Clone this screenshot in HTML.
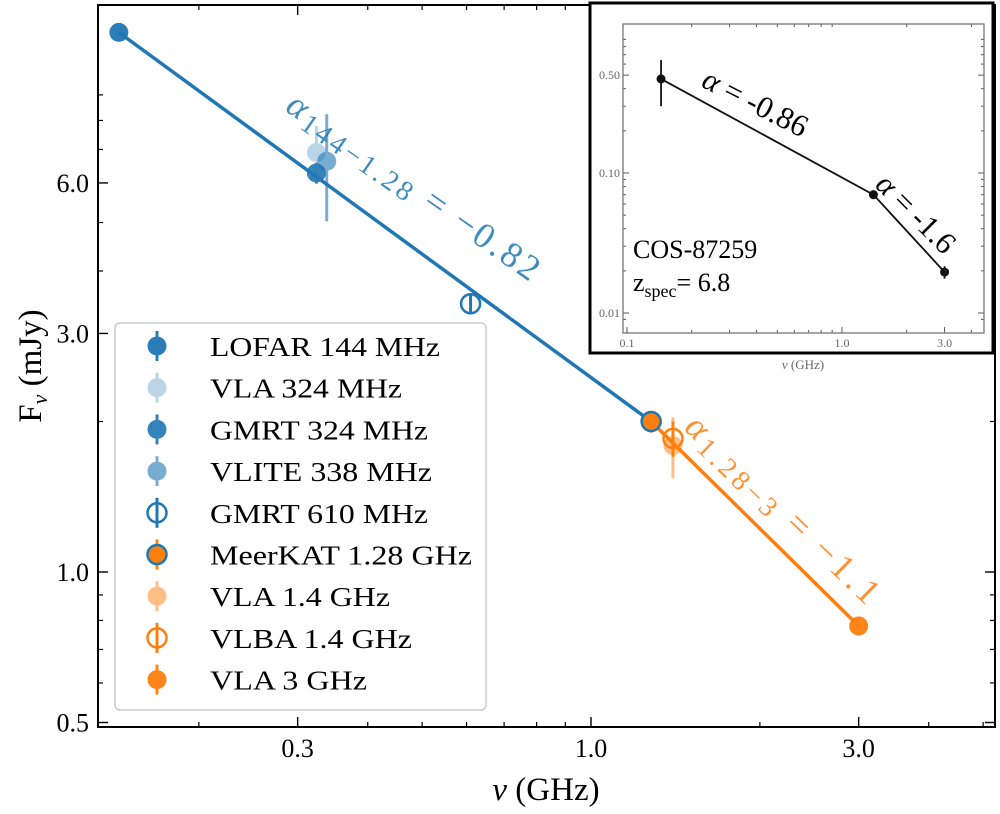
<!DOCTYPE html>
<html><head><meta charset="utf-8"><style>
html,body{margin:0;padding:0;background:#fff}
svg{display:block}
text{font-family:"Liberation Serif","DejaVu Serif",serif}
</style></head><body>
<svg id="chart" width="1000" height="814" xmlns="http://www.w3.org/2000/svg">
<rect width="1000" height="814" fill="#fff"/>
<g id="main"></g>
<g id="inset"></g>
</svg>
<script>
const NS="http://www.w3.org/2000/svg";
// ---- main data ----
const labels=["LOFAR 144 MHz","VLA 324 MHz","GMRT 324 MHz","VLITE 338 MHz","GMRT 610 MHz","MeerKAT 1.28 GHz","VLA 1.4 GHz","VLBA 1.4 GHz","VLA 3 GHz"];
const freqs=[0.144,0.324,0.324,0.338,0.61,1.28,1.4,1.4,3.0];
const fluxes=[12.0,6.9,6.28,6.63,3.44,2.0,1.79,1.85,0.78];
const errLo=[0.3,0.9,0.3,1.6,0.15,0.1,0.25,0.15,0.03];
const errHi=[0.3,0.9,0.3,1.6,0.15,0.1,0.25,0.15,0.03];
const xTicks=[0.3,1.0,3.0];
const xTickLabels=["0.3","1.0","3.0"];
const yTicks=[0.5,1.0,3.0,6.0];
const yTickLabels=["0.5","1.0","3.0","6.0"];
const fitBlue=[0.144,1.28];
const fitOrange=[1.28,3.0];
// ---- inset data ----
const insetFreqs=[0.144,1.4,3.0];
const insetFlux=[0.47,0.07,0.0196];
const insetErr=[0.17,0.005,0.002];
const insetXTicks=[0.1,1.0,3.0];
const insetXTickLabels=["0.1","1.0","3.0"];
const insetYTicks=[0.01,0.1,0.5];
const insetYTickLabels=["0.01","0.10","0.50"];
// layout only
const legendTextWidths=[230,192,218,222,218,262,180,202,157];

const BLUE="#1f77b4",ORANGE="#ff7f0e";
const L=98,R=995,T=5,B=727;
const X=v=>591+561*Math.log10(v);
const Y=v=>572-500*Math.log10(v);
function mk(tag,attrs,parent){const e=document.createElementNS(NS,tag);for(const k in attrs)e.setAttribute(k,attrs[k]);parent.appendChild(e);return e;}
const main=document.getElementById('main');

const xMinor=[0.2,0.4,0.5,0.6,0.7,0.8,0.9,2,4,5];
xMinor.forEach(v=>{const x=X(v);mk('line',{x1:x,x2:x,y1:B,y2:B-5,stroke:'#000','stroke-width':1.2},main);mk('line',{x1:x,x2:x,y1:T,y2:T+5,stroke:'#000','stroke-width':1.2},main);});
const yMinor=[0.6,0.7,0.8,0.9,2,4,5,7,8,9];
yMinor.forEach(v=>{const y=Y(v);mk('line',{x1:L,x2:L+5,y1:y,y2:y,stroke:'#000','stroke-width':1.2},main);mk('line',{x1:R,x2:R-5,y1:y,y2:y,stroke:'#000','stroke-width':1.2},main);});
xTicks.forEach((v,i)=>{const x=X(v);
 mk('line',{x1:x,x2:x,y1:B,y2:B-10,stroke:'#000','stroke-width':1.4},main);
 mk('line',{x1:x,x2:x,y1:T,y2:T+10,stroke:'#000','stroke-width':1.4},main);
 const t=mk('text',{x:x,y:757,'text-anchor':'middle','font-size':26},main);t.textContent=xTickLabels[i];
 
 });
yTicks.forEach((v,i)=>{const y=Y(v);
 mk('line',{x1:L,x2:L+10,y1:y,y2:y,stroke:'#000','stroke-width':1.4},main);
 mk('line',{x1:R,x2:R-10,y1:y,y2:y,stroke:'#000','stroke-width':1.4},main);
 const t=mk('text',{x:89,y:y+9,'text-anchor':'end','font-size':26},main);t.textContent=yTickLabels[i];
 
 });

const lb=mk('line',{x1:X(fitBlue[0]),y1:Y(fluxes[0]),x2:X(fitBlue[1]),y2:Y(fluxes[5]),stroke:BLUE,'stroke-width':3.5},main);


const lo=mk('line',{x1:X(fitOrange[0]),y1:Y(fluxes[5]),x2:X(fitOrange[1]),y2:Y(fluxes[8]),stroke:ORANGE,'stroke-width':3.5},main);



const styles=[
 {c:BLUE,fill:BLUE,op:0.95},{c:BLUE,fill:BLUE,op:0.3},{c:BLUE,fill:BLUE,op:0.9},{c:BLUE,fill:BLUE,op:0.6},
 {c:BLUE,fill:'#fff',op:1,open:true},{c:ORANGE,fill:ORANGE,op:1,edge:BLUE},{c:ORANGE,fill:ORANGE,op:0.5},
 {c:ORANGE,fill:'none',op:1,open:true},{c:ORANGE,fill:ORANGE,op:0.95}];
function marker(g,x,y,s,r,eTop,eBot){
 const grp=mk('g',{opacity:s.op},g);
 mk('line',{x1:x,x2:x,y1:eTop,y2:eBot,stroke:s.c,'stroke-width':3},grp);
 mk('circle',{cx:x,cy:y,r:r,fill:s.open?'none':s.fill,stroke:s.edge||s.c,'stroke-width':s.open?2.5:(s.edge?2.5:0)},grp);
 return grp;
}
freqs.forEach((f,i)=>{
 const x=X(f),y=Y(fluxes[i]);
 const g=marker(main,x,y,styles[i],9.5,Y(fluxes[i]+errHi[i]),Y(fluxes[i]-errLo[i]));
 
 
});

const fr=mk('rect',{x:L,y:T,width:R-L,height:B-T,fill:'none',stroke:'#000','stroke-width':2},main);



const a1=mk('text',{x:0,y:0,'font-size':36,fill:BLUE,'fill-opacity':0.85,textLength:300,lengthAdjust:'spacing',transform:'translate(284,110) rotate(35)'},main);
a1.innerHTML='<tspan font-style="italic">α</tspan><tspan font-size="28" dy="6">144−1.28</tspan><tspan dy="-6"> = −0.82</tspan>';


const a2=mk('text',{x:0,y:0,'font-size':36,fill:ORANGE,'fill-opacity':0.85,textLength:255,lengthAdjust:'spacing',transform:'translate(683,429) rotate(44)'},main);
a2.innerHTML='<tspan font-style="italic">α</tspan><tspan font-size="28" dy="6">1.28−3</tspan><tspan dy="-6"> = −1.1</tspan>';



const xt=mk('text',{x:546,y:800,'text-anchor':'middle','font-size':33},main);
xt.innerHTML='<tspan font-style="italic">ν</tspan> (GHz)';


const yt=mk('text',{x:0,y:0,'text-anchor':'middle','font-size':33,transform:'translate(41,366) rotate(-90)'},main);
yt.innerHTML='F<tspan font-size="22" dy="6" font-style="italic">ν</tspan><tspan dy="-6"> (mJy)</tspan>';



const lg=mk('g',{},main);


mk('rect',{x:115,y:323,width:371,height:387,rx:5,fill:'#fff','fill-opacity':0.9,stroke:'#ccc','stroke-width':1.5},lg);
labels.forEach((lab,i)=>{
 const y=346+i*41.7;
 const e=mk('g',{},lg);
 
 
 marker(e,157,y,styles[i],9.5,y-15,y+15);
 const t=mk('text',{x:210,y:y+10,'font-size':27,textLength:legendTextWidths[i],lengthAdjust:'spacingAndGlyphs'},e);t.textContent=lab;
});

// ---- inset ----
const ins=document.getElementById('inset');


mk('rect',{x:590,y:3,width:403,height:350,fill:'#fff',stroke:'#000','stroke-width':3},ins);
const IL=623,IR=984,IT=24,IB=333;
const IX=v=>842+215*Math.log10(v);
const IY=v=>173-140*Math.log10(v/0.1);
[0.2,0.3,0.4,0.5,0.6,0.7,0.8,0.9,2,4].forEach(v=>{const x=IX(v);mk('line',{x1:x,x2:x,y1:IB,y2:IB-3,stroke:'#555'},ins);mk('line',{x1:x,x2:x,y1:IT,y2:IT+3,stroke:'#555'},ins);});
[0.009,0.02,0.03,0.04,0.05,0.06,0.07,0.08,0.09,0.2,0.3,0.4,0.6,0.7,0.8,0.9].forEach(v=>{const y=IY(v);if(y<IT||y>IB)return;mk('line',{x1:IL,x2:IL+3,y1:y,y2:y,stroke:'#555'},ins);mk('line',{x1:IR,x2:IR-3,y1:y,y2:y,stroke:'#555'},ins);});
insetXTicks.forEach((v,i)=>{const x=IX(v);mk('line',{x1:x,x2:x,y1:IB,y2:IB-6,stroke:'#555'},ins);
 const t=mk('text',{x:x,y:IB+14,'text-anchor':'middle','font-size':12,fill:'#666'},ins);t.textContent=insetXTickLabels[i];});
insetYTicks.forEach((v,i)=>{const y=IY(v);mk('line',{x1:IL,x2:IL+6,y1:y,y2:y,stroke:'#555'},ins);mk('line',{x1:IR,x2:IR-6,y1:y,y2:y,stroke:'#555'},ins);
 const t=mk('text',{x:IL-3,y:y+4,'text-anchor':'end','font-size':12,fill:'#666'},ins);t.textContent=insetYTickLabels[i];});
mk('rect',{x:IL,y:IT,width:IR-IL,height:IB-IT,fill:'none',stroke:'#777','stroke-width':1.3},ins);
const pts=insetFreqs.map((f,i)=>IX(f)+','+IY(insetFlux[i])).join(' ');
mk('polyline',{points:pts,fill:'none',stroke:'#111','stroke-width':1.8},ins);
insetFreqs.forEach((f,i)=>{const x=IX(f),y=IY(insetFlux[i]);
 mk('line',{x1:x,x2:x,y1:IY(insetFlux[i]+insetErr[i]),y2:IY(insetFlux[i]-insetErr[i]),stroke:'#111','stroke-width':1.8},ins);
 const c=mk('circle',{cx:x,cy:y,r:4.5,fill:'#111'},ins);
 
 });
const t1=mk('text',{x:0,y:0,'font-size':31,transform:'translate(700,86) rotate(27)'},ins);
t1.innerHTML='<tspan font-style="italic">α</tspan> = -0.86';


const t2=mk('text',{x:0,y:0,'font-size':31,transform:'translate(874,186) rotate(45)'},ins);
t2.innerHTML='<tspan font-style="italic">α</tspan> = -1.6';


const t3=mk('text',{x:633,y:258,'font-size':26},ins);t3.textContent='COS-87259';


const t4=mk('text',{x:633,y:291,'font-size':26},ins);
t4.innerHTML='z<tspan font-size="18" dy="6">spec</tspan><tspan dy="-6">= 6.8</tspan>';


const t5=mk('text',{x:803,y:369,'text-anchor':'middle','font-size':13,fill:'#666'},ins);
t5.innerHTML='<tspan font-style="italic">ν</tspan> (GHz)';


</script>
</body></html>
